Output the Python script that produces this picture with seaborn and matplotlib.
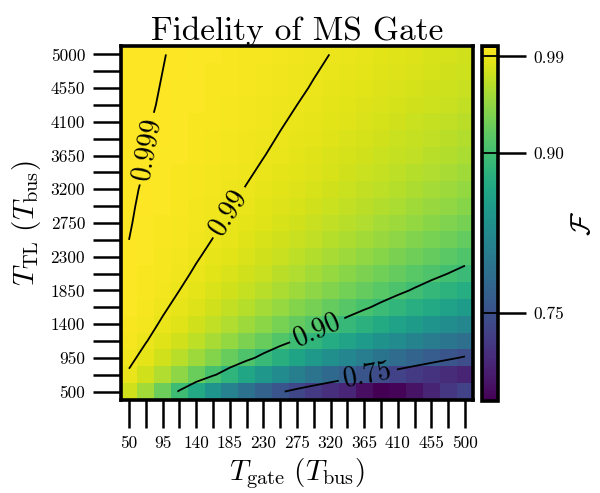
import numpy as np
import pandas as pd
import matplotlib
matplotlib.use("Agg")
import matplotlib.pyplot as plt
import seaborn as sns

# ---------------- data ----------------
t_gate = [50, 72.5, 95, 117.5, 140, 162.5, 185, 207.5, 230, 252.5, 275,
          297.5, 320, 342.5, 365, 387.5, 410, 432.5, 455, 477.5, 500]
t_tl = [500, 725, 950, 1175, 1400, 1625, 1850, 2075, 2300, 2525, 2750,
        2975, 3200, 3425, 3650, 3875, 4100, 4325, 4550, 4775, 5000]

row_500 = [.9762, .9531, .9257, .8966, .8677, .8403, .8150, .7922, .7720, .7542, .7385, .7249, .7129, .7024, .6800, .6680, .6710, .6840, .7010, .7200, .7340]
row_725 = [.9883, .9762, .9608, .9431, .9238, .9037, .8836, .8638, .8448, .8269, .8100, .7945, .7801, .7669, .7547, .7437, .7336, .7244, .7160, .7083, .7014]
row_950 = [.9931, .9858, .9762, .9647, .9517, .9376, .9227, .9074, .8920, .8767, .8618, .8473, .8334, .8201, .8075, .7957, .7845, .7740, .7642, .7551, .7465]
row_1175 = [.9955, .9906, .9841, .9762, .9671, .9569, .9458, .9342, .9221, .9097, .8973, .8848, .8725, .8605, .8488, .8374, .8265, .8160, .8059, .7964, .7873]
row_1400 = [.9968, .9933, .9887, .9829, .9762, .9686, .9602, .9512, .9417, .9318, .9216, .9113, .9008, .8904, .8800, .8697, .8597, .8499, .8403, .8310, .8220]
row_1625 = [.9976, .9950, .9915, .9872, .9821, .9762, .9697, .9626, .9550, .9471, .9387, .9301, .9213, .9124, .9034, .8944, .8854, .8765, .8677, .8591, .8506]
row_1850 = [.9982, .9962, .9934, .9900, .9860, .9814, .9762, .9705, .9644, .9579, .9510, .9438, .9364, .9288, .9211, .9132, .9054, .8974, .8895, .8817, .8739]
row_2075 = [.9985, .9969, .9948, .9921, .9888, .9851, .9809, .9762, .9712, .9658, .9600, .9540, .9477, .9413, .9346, .9278, .9209, .9139, .9068, .8998, .8928]
row_2300 = [.9988, .9975, .9957, .9935, .9908, .9878, .9843, .9804, .9762, .9717, .9669, .9617, .9564, .9508, .9451, .9392, .9331, .9270, .9207, .9144, .9081]
row_2525 = [.9990, .9979, .9965, .9946, .9924, .9898, .9869, .9836, .9801, .9762, .9721, .9677, .9631, .9583, .9533, .9482, .9429, .9375, .9319, .9263, .9206]
row_2750 = [.9992, .9982, .9970, .9954, .9935, .9914, .9889, .9861, .9831, .9798, .9762, .9724, .9685, .9643, .9599, .9554, .9507, .9459, .9410, .9360, .9309]
row_2975 = [.9993, .9985, .9974, .9961, .9945, .9926, .9904, .9881, .9854, .9826, .9795, .9762, .9727, .9691, .9653, .9613, .9571, .9529, .9485, .9440, .9394]
row_3200 = [.9994, .9987, .9978, .9966, .9952, .9936, .9917, .9896, .9873, .9848, .9822, .9793, .9762, .9730, .9696, .9661, .9624, .9586, .9547, .9507, .9465]
row_3425 = [.9995, .9989, .9981, .9970, .9958, .9944, .9928, .9909, .9889, .9867, .9843, .9818, .9791, .9762, .9732, .9701, .9668, .9634, .9599, .9562, .9525]
row_3650 = [.9995, .9990, .9983, .9974, .9963, .9950, .9936, .9920, .9902, .9883, .9861, .9839, .9815, .9789, .9762, .9734, .9705, .9674, .9642, .9610, .9576]
row_3875 = [.9996, .9991, .9985, .9977, .9967, .9956, .9943, .9929, .9913, .9895, .9877, .9856, .9835, .9812, .9788, .9762, .9736, .9708, .9679, .9650, .9619]
row_4100 = [.9996, .9992, .9986, .9979, .9971, .9961, .9949, .9936, .9922, .9906, .9889, .9871, .9852, .9831, .9809, .9786, .9762, .9737, .9711, .9684, .9656]
row_4325 = [.9997, .9993, .9988, .9981, .9974, .9965, .9954, .9943, .9930, .9916, .9900, .9884, .9866, .9848, .9828, .9807, .9785, .9762, .9738, .9714, .9688]
row_4550 = [.9997, .9994, .9989, .9983, .9976, .9968, .9959, .9948, .9936, .9924, .9910, .9895, .9879, .9862, .9844, .9825, .9805, .9784, .9762, .9740, .9716]
row_4775 = [.9997, .9994, .9990, .9985, .9978, .9971, .9962, .9953, .9942, .9930, .9918, .9904, .9890, .9874, .9857, .9840, .9822, .9803, .9783, .9762, .9741]
row_5000 = [.9997, .9995, .9991, .9986, .9980, .9973, .9966, .9957, .9947, .9936, .9925, .9912, .9899, .9885, .9870, .9854, .9837, .9819, .9801, .9782, .9762]

fidelity_rows = [row_500, row_725, row_950, row_1175, row_1400, row_1625, row_1850,
                 row_2075, row_2300, row_2525, row_2750, row_2975, row_3200, row_3425,
                 row_3650, row_3875, row_4100, row_4325, row_4550, row_4775, row_5000]

contour_levels = [0.75, 0.90, 0.99, 0.999]
contour_texts = ["0.75", "0.90", "0.99", "0.999"]
cbar_ticks = [0.75, 0.90, 0.99]
cbar_ticklabels = ["0.75", "0.90", "0.99"]

# ---------------- style ----------------
plt.rcParams.update({
    "font.family": "serif",
    "font.serif": ["cmr10", "DejaVu Serif"],
    "mathtext.fontset": "cm",
    "axes.unicode_minus": False,
    "axes.formatter.use_mathtext": True,
})

fig = plt.figure(figsize=(6.0, 4.93), dpi=100)
ax = fig.add_axes([0.201, 0.1886, 0.588, 0.7181])
cax = fig.add_axes([0.8033, 0.1866, 0.0265, 0.7201])

df = pd.DataFrame(fidelity_rows[::-1], index=t_tl[::-1], columns=t_gate)

sns.heatmap(df, ax=ax, cbar_ax=cax, cmap="viridis",
            xticklabels=False, yticklabels=False)

n = len(t_gate)
centers = np.arange(n) + 0.5
xlabels = [f"{v:g}" if k % 2 == 0 else "" for k, v in enumerate(t_gate)]
ylabels_top_down = [f"{v:g}" if k % 2 == 0 else "" for k, v in enumerate(t_tl)][::-1]
ax.set_xticks(centers)
ax.set_xticklabels(xlabels, rotation=0)
ax.set_yticks(np.arange(len(t_tl)) + 0.5)
ax.set_yticklabels(ylabels_top_down, rotation=0)
ax.tick_params(axis="both", length=20.5, width=1.8, labelsize=12.5, pad=5,
               direction="out", bottom=True, left=True, color="black")

for s in ax.spines.values():
    s.set_visible(True)
    s.set_linewidth(2.6)
    s.set_color("black")

# contours
Z = df.values
cs = ax.contour(centers, np.arange(len(t_tl)) + 0.5, Z, levels=contour_levels,
                colors="black", linewidths=1.3)
fmt = {lv: tx for lv, tx in zip(cs.levels, contour_texts)}
ax.clabel(cs, fmt=fmt, inline=True, fontsize=20,
          manual=[(14.7, 19.4), (11.6, 16.6), (6.5, 9.9), (1.33, 6.05)])

# colorbar
cbar = ax.collections[0].colorbar
cbar.add_lines(cs)
cbar.set_ticks(cbar_ticks)
cbar.set_ticklabels(cbar_ticklabels)
cbar.outline.set_visible(True)
cbar.outline.set_linewidth(2.6)
cbar.outline.set_edgecolor("black")
cax.tick_params(length=20.5, width=1.8, labelsize=12.5, pad=5, color="black")
cbar.set_label(r"$\mathcal{F}$", fontsize=20, labelpad=4)

ax.set_title("Fidelity of MS Gate", fontsize=24, pad=3)
ax.set_xlabel(r"$T_{\rm gate}\ (T_{\rm bus})$", fontsize=21, labelpad=4)
ax.set_ylabel(r"$T_{\rm TL}\ (T_{\rm bus})$", fontsize=21, labelpad=5)

fig.savefig("out.png", dpi=100)
